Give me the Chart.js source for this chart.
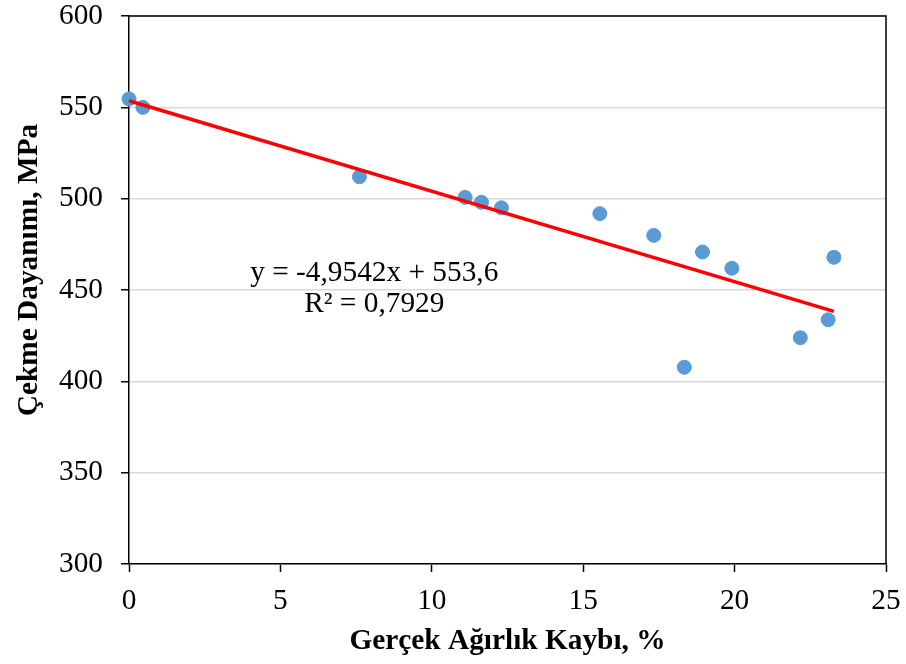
<!DOCTYPE html>
<html lang="tr">
<head>
  <meta charset="UTF-8">
  <title>Çekme Dayanımı - Ağırlık Kaybı</title>
  <script src="https://cdn.jsdelivr.net/npm/chart.js"></script>
  <style>
    html, body {
      margin: 0;
      padding: 0;
      background: #ffffff;
    }
    #wrap {
      width: 906px;
      height: 664px;
    }
  </style>
</head>
<body>
  <div id="wrap">
    <canvas id="grafik" width="906" height="664"></canvas>
  </div>

  <script>
    // ölçüm verileri: gerçek ağırlık kaybı (%) ve çekme dayanımı (MPa)
    const agirlikKaybi = [0, 0.46, 7.61, 11.1, 11.64, 12.3, 15.55, 17.33, 18.34, 18.94, 19.91, 22.17, 23.09, 23.28];
    const cekmeDayanimi = [554.6, 550, 512, 500.7, 498, 495, 491.8, 479.9, 407.7, 470.8, 461.9, 423.9, 433.7, 467.9];

    // doğrusal eğilim çizgisi katsayıları
    const egim = -4.9542;
    const kesim = 553.6;
    const r2 = 0.7929;

    const xTicks = [0, 5, 10, 15, 20, 25];
    const yTicks = [300, 350, 400, 450, 500, 550, 600];

    const xBaslik = 'Gerçek Ağırlık Kaybı, %';
    const yBaslik = 'Çekme Dayanımı, MPa';

    const fmt = (v, d) => v.toFixed(d).replace('.', ',');

    const noktalar = agirlikKaybi.map((x, i) => ({ x: x, y: cekmeDayanimi[i] }));
    const xSon = Math.max(...agirlikKaybi);
    const egilim = [
      { x: 0, y: kesim },
      { x: xSon, y: egim * xSon + kesim }
    ];

    const yaziTipi = "'Liberation Serif', 'Times New Roman', serif";
    const boyut = 29.33; // 22pt

    // çizim alanının üst ve sağ kenarı, dikey eksen başlığı ve denklem etiketi
    const cerceve = {
      id: 'cerceve',
      beforeDatasetsDraw(chart) {
        const { ctx, chartArea: a } = chart;
        ctx.save();
        ctx.strokeStyle = '#000';
        ctx.lineWidth = 1.5;
        ctx.beginPath();
        ctx.moveTo(a.left, a.top);
        ctx.lineTo(a.right, a.top);
        ctx.lineTo(a.right, a.bottom);
        ctx.stroke();

        // dikey başlık, çizim alanının ortasından biraz yukarıda
        ctx.translate(29, (a.top + a.bottom) / 2 - 20);
        ctx.rotate(-Math.PI / 2);
        ctx.fillStyle = '#000';
        ctx.font = 'bold ' + boyut + 'px ' + yaziTipi;
        ctx.textAlign = 'center';
        ctx.textBaseline = 'middle';
        ctx.fillText(yBaslik, 0, 0);
        ctx.restore();
      },
      afterDatasetsDraw(chart) {
        const { ctx, scales } = chart;
        const cx = scales.x.getPixelForValue(8.1);
        ctx.save();
        ctx.fillStyle = '#000';
        ctx.font = boyut + 'px ' + yaziTipi;
        ctx.textAlign = 'center';
        ctx.textBaseline = 'middle';
        const isaret = egim < 0 ? '-' : '';
        ctx.fillText('y = ' + isaret + fmt(Math.abs(egim), 4) + 'x + ' + fmt(kesim, 1), cx, scales.y.getPixelForValue(459));
        ctx.fillText('R² = ' + fmt(r2, 4), cx, scales.y.getPixelForValue(442));
        ctx.restore();
      }
    };

    new Chart(document.getElementById('grafik'), {
      type: 'scatter',
      data: {
        datasets: [
          {
            label: 'Eğilim',
            type: 'line',
            data: egilim,
            borderColor: '#ff0000',
            borderWidth: 3.5,
            pointRadius: 0,
            fill: false,
            clip: false,
            order: 0
          },
          {
            label: 'Ölçüm',
            data: noktalar,
            backgroundColor: '#5b9bd5',
            borderColor: '#5b9bd5',
            pointRadius: 7,
            pointHoverRadius: 7,
            clip: false,
            order: 1
          }
        ]
      },
      options: {
        responsive: false,
        animation: false,
        layout: {
          padding: { top: 16, right: 20, left: 0, bottom: 0 }
        },
        plugins: {
          legend: { display: false },
          tooltip: { enabled: false }
        },
        scales: {
          x: {
            type: 'linear',
            min: 0,
            max: 25,
            afterBuildTicks: s => { s.ticks = xTicks.map(v => ({ value: v })); },
            afterFit: s => {
              s.height = 100;
              s.paddingLeft = 0;
              s.paddingRight = 0;
            },
            ticks: {
              color: '#000',
              font: { family: yaziTipi, size: boyut },
              padding: 12
            },
            grid: {
              drawOnChartArea: false,
              drawTicks: true,
              tickLength: 8,
              tickColor: '#000',
              tickWidth: 1.5
            },
            border: { color: '#000', width: 1.5 },
            title: {
              display: true,
              text: xBaslik,
              color: '#000',
              font: { family: yaziTipi, size: boyut, weight: 'bold' },
              padding: { top: 0, bottom: 5 }
            }
          },
          y: {
            type: 'linear',
            min: 300,
            max: 600,
            afterBuildTicks: s => { s.ticks = yTicks.map(v => ({ value: v })); },
            afterFit: s => {
              s.width = 129;
              s.paddingTop = 0;
              s.paddingBottom = 0;
            },
            ticks: {
              color: '#000',
              font: { family: yaziTipi, size: boyut },
              padding: 18
            },
            grid: {
              color: '#d9d9d9',
              lineWidth: 1.5,
              drawTicks: true,
              tickLength: 8,
              tickColor: '#000',
              tickWidth: 1.5
            },
            border: { color: '#000', width: 1.5 },
            title: { display: false }
          }
        }
      },
      plugins: [cerceve]
    });
  </script>
</body>
</html>
